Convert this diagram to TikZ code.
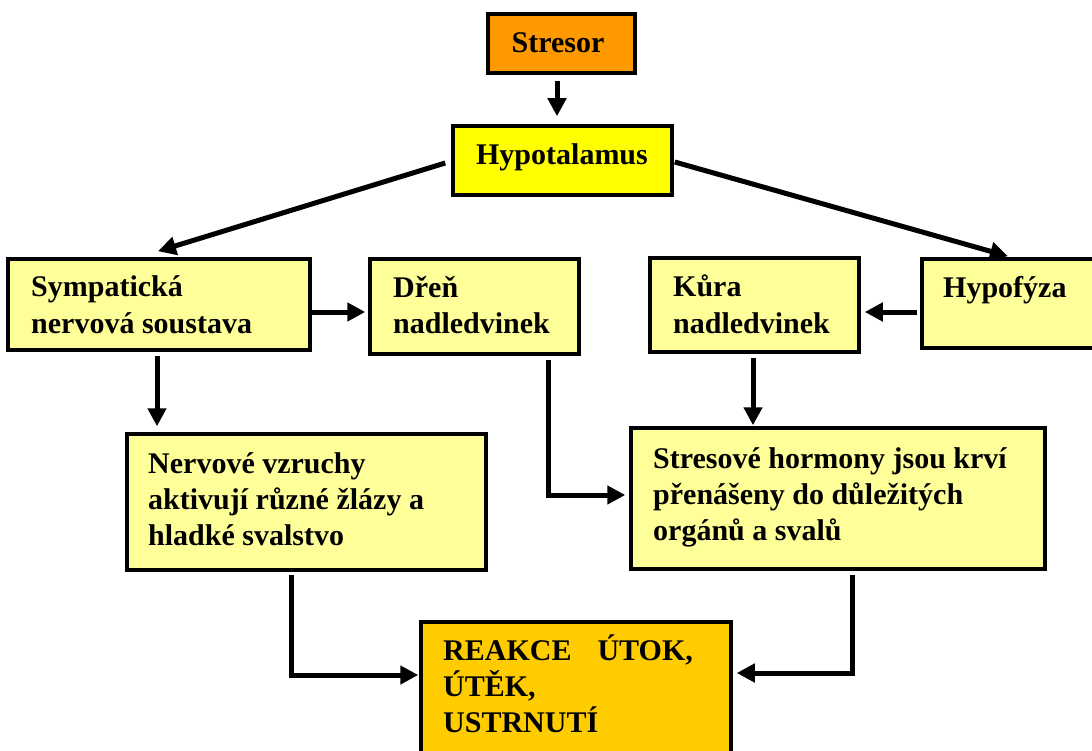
\documentclass[tikz,border=0pt]{standalone}
\usepackage{fontspec}
\setmainfont{Liberation Serif}
\usetikzlibrary{arrows.meta}
\definecolor{orangeS}{HTML}{FF9900}
\definecolor{yellowH}{HTML}{FFFF00}
\definecolor{paleY}{HTML}{FFFF99}
\definecolor{goldR}{HTML}{FFCC00}
\tikzset{
  box/.style={draw=black, line width=3.5pt, inner sep=0pt, anchor=center},
  txt/.style={anchor=base west, inner sep=0pt, font=\fontsize{30}{36}\selectfont\bfseries},
  ctxt/.style={anchor=base, inner sep=0pt, font=\fontsize{30}{36}\selectfont\bfseries},
  arr/.style={line width=5pt, -{Triangle[length=18pt,width=18pt]}},
}
\newcommand{\mylines}[1]{\vtop{\baselineskip=36pt #1}}
\begin{document}
\begin{tikzpicture}[x=1pt,y=-1pt]
\useasboundingbox (0,0) rectangle (1092,751);
\fill[white] (0,0) rectangle (1092,751);
% boxes
\node[box, fill=orangeS, minimum width=147pt, minimum height=59pt] (stresor) at (561.5,43.5) {};
\node[box, fill=yellowH, minimum width=219pt, minimum height=69pt] (hyp) at (562.5,160.5) {};
\node[box, fill=paleY, minimum width=302pt, minimum height=91pt] (symp) at (159,304.5) {};
\node[box, fill=paleY, minimum width=209pt, minimum height=95pt] (dren) at (474.5,306.5) {};
\node[box, fill=paleY, minimum width=209pt, minimum height=94pt] (kura) at (754.5,305) {};
\node[box, fill=paleY, minimum width=188pt, minimum height=89pt] (hypo) at (1016,303.5) {};
\node[box, fill=paleY, minimum width=359pt, minimum height=136pt] (nerv) at (306.5,502) {};
\node[box, fill=paleY, minimum width=414pt, minimum height=141pt] (stres) at (838,498.5) {};
\node[box, fill=goldR, minimum width=310pt, minimum height=148pt] (reak) at (576,696) {};
% texts
\node[ctxt] (tstresor) at (558,53) {Stresor};
\node[ctxt] (thyp) at (562,165) {Hypotalamus};
\node[txt] (tsymp) at (31,297) {\mylines{\hbox{Sympatická}\hbox{nervová soustava}}};
\node[txt] (tdren) at (393,298) {\mylines{\hbox{Dřeň}\hbox{nadledvinek}}};
\node[txt] (tkura) at (673,297) {\mylines{\hbox{Kůra}\hbox{nadledvinek}}};
\node[txt] (thypo) at (943,298) {Hypofýza};
\node[txt] (tnerv) at (148,473) {\mylines{\hbox{Nervové vzruchy}\hbox{aktivují různé žlázy a}\hbox{hladké svalstvo}}};
\node[txt] (tstres) at (653,468) {\mylines{\hbox{Stresové hormony jsou krví}\hbox{přenášeny do důležitých}\hbox{orgánů a svalů}}};
\node[txt] (treak) at (443,660) {\mylines{\hbox{REAKCE\hspace{26pt}ÚTOK,}\hbox{ÚTĚK,}\hbox{USTRNUTÍ}}};
% connectors
\draw[arr] ([xshift=-4.5pt,yshift=-6pt]stresor.south) -- ([xshift=-5.5pt,yshift=8pt]hyp.north);
\draw[arr] ([xshift=-6pt,yshift=-2.5pt]hyp.west) -- ([xshift=-1pt,yshift=6pt]symp.north);
\draw[arr] ([xshift=1pt,yshift=-1.5pt]hyp.east) -- ([xshift=-8pt,yshift=1pt]hypo.north);
\draw[arr] ([yshift=-7.5pt]symp.east) -- ([xshift=-3pt,yshift=-5.5pt]dren.west);
\draw[arr] ([xshift=-3pt,yshift=-8.5pt]hypo.west) -- ([xshift=4pt,yshift=-7pt]kura.east);
\coordinate (s6) at ([xshift=-2pt,yshift=-4pt]symp.south);
\draw[arr, shorten >=6pt] (s6) -- (s6 |- nerv.north);
\coordinate (s7) at ([xshift=-1.5pt,yshift=-4pt]kura.south);
\draw[arr, shorten >=1pt] (s7) -- (s7 |- stres.north);
\draw[arr] ([xshift=73.5pt,yshift=-4pt]dren.south) |- ([xshift=-4pt,yshift=3.5pt]stres.west);
\draw[arr] ([xshift=-15.5pt,yshift=-3pt]nerv.south) |- ([xshift=-1pt,yshift=21pt]reak.west);
\draw[arr] ([xshift=14pt,yshift=-4pt]stres.south) |- ([xshift=4pt,yshift=23pt]reak.east);
\end{tikzpicture}
\end{document}
